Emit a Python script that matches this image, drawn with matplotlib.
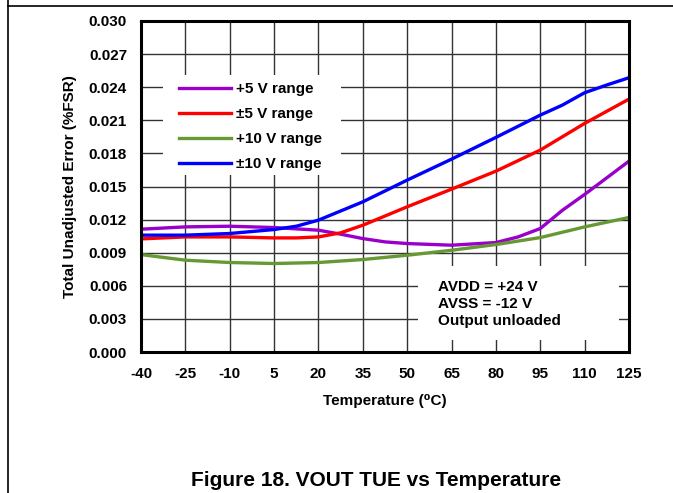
import matplotlib
matplotlib.use("Agg")
import matplotlib.pyplot as plt
from matplotlib.lines import Line2D
from matplotlib.patches import Rectangle

plt.rcParams['font.family'] = ['Liberation Sans', 'DejaVu Sans']
plt.rcParams['font.weight'] = 'bold'

x_ticks = [-40, -25, -10, 5, 20, 35, 50, 65, 80, 95, 110, 125]
y_ticks = [0.000, 0.003, 0.006, 0.009, 0.012, 0.015, 0.018, 0.021, 0.024, 0.027, 0.030]

temp_p5 = [-40, -25, -10, 5, 20, 27.5, 35, 42.5, 50, 65, 80, 87.5, 95, 102.5, 110, 125]
tue_p5 = [0.01113, 0.01134, 0.0114, 0.01128, 0.01104, 0.01068, 0.01028, 0.00998, 0.00983,
          0.00968, 0.00992, 0.01043, 0.01119, 0.01285, 0.01428, 0.0173]

temp_pm5 = [-40, -25, -10, 5, 12.5, 20, 27.5, 35, 50, 65, 80, 95, 110, 125]
tue_pm5 = [0.01025, 0.01043, 0.01043, 0.01034, 0.01034, 0.01043, 0.0108, 0.01149, 0.01316,
           0.01476, 0.01639, 0.0183, 0.02072, 0.02292]

temp_p10 = [-40, -25, -10, 5, 20, 35, 50, 65, 80, 95, 110, 125]
tue_p10 = [0.00883, 0.00832, 0.00811, 0.00802, 0.00811, 0.00838, 0.00877, 0.00922,
           0.00974, 0.01037, 0.01134, 0.01219]

temp_pm10 = [-40, -25, -10, 5, 12.5, 20, 35, 50, 65, 80, 95, 102.5, 110, 117.5, 125]
tue_pm10 = [0.01059, 0.01059, 0.01074, 0.0111, 0.0114, 0.01195, 0.01361, 0.01558, 0.01748,
            0.01945, 0.02147, 0.02238, 0.0235, 0.0242, 0.02486]

labels = ['+5 V range', '\u00b15 V range', '+10 V range', '\u00b110 V range']
colors = ['#9900CC', '#FF0000', '#669933', '#0000FF']

W, H = 673, 493
AX_L, AX_R, AX_T, AX_B = 141, 629, 21, 352
fig = plt.figure(figsize=(W / 100, H / 100), dpi=100)
ax = fig.add_axes([AX_L / W, 1 - AX_B / H, (AX_R - AX_L) / W, (AX_B - AX_T) / H])


def ax_x(px):
    return (px - AX_L) / (AX_R - AX_L)


def ax_y(py):
    return (AX_B - py) / (AX_B - AX_T)


series = [(temp_p5, tue_p5), (temp_pm5, tue_pm5), (temp_p10, tue_p10), (temp_pm10, tue_pm10)]
for (t, v), c in zip(series, colors):
    ax.plot(t, v, color=c, lw=2.4, solid_capstyle='butt', zorder=4)

FS = 11
ax.set_xlim(-40, 125)
ax.set_ylim(0, 0.030)
ax.set_xticks(x_ticks)
ax.set_yticks(y_ticks)
ax.set_xticklabels([str(v) for v in x_ticks], fontsize=FS, fontweight='bold')
ax.set_yticklabels([f'{v:.3f}' for v in y_ticks], fontsize=FS, fontweight='bold')
ax.tick_params(axis='y', length=0, pad=10)
ax.tick_params(axis='x', length=0, pad=10.5)
ax.grid(True, color='#333333', lw=1.0, zorder=1)
for s in ax.spines.values():
    s.set_linewidth(2.2)
    s.set_color('black')
    s.set_zorder(6)

ax.set_xlabel('Temperature (\u2070C)', fontsize=FS, fontweight='bold', labelpad=10)
ax.set_ylabel('Total Unadjusted Error (%FSR)', fontsize=FS, fontweight='bold', labelpad=8.5)

# white boxes that hide the grid behind legend and note
ax.add_patch(Rectangle((ax_x(163), ax_y(175)), ax_x(341) - ax_x(163), ax_y(75) - ax_y(175),
                       transform=ax.transAxes, facecolor='white', edgecolor='none', zorder=2))
ax.add_patch(Rectangle((ax_x(418), ax_y(340)), ax_x(619) - ax_x(418), ax_y(266) - ax_y(340),
                       transform=ax.transAxes, facecolor='white', edgecolor='none', zorder=2))

handles = [Line2D([0], [0], color=c, lw=2.4) for c in colors]
leg = ax.legend(handles, labels, loc='upper left', bbox_to_anchor=(ax_x(179), ax_y(82)),
                frameon=False, prop={'size': FS, 'weight': 'bold'}, handlelength=3.4,
                handletextpad=0.35, labelspacing=0.72, borderpad=0.0, borderaxespad=0.0)
leg.set_zorder(5)

ax.text(ax_x(438), ax_y(280), 'AVDD = +24 V\nAVSS = -12 V\nOutput unloaded',
        transform=ax.transAxes, fontsize=FS, fontweight='bold', va='top', ha='left',
        linespacing=1.27, zorder=5)

fig.text(376 / W, 1 - 480 / H, 'Figure 18. VOUT TUE vs Temperature', fontsize=15,
         fontweight='bold', ha='center', va='center')

fig.add_artist(Line2D([8 / W, 1], [1 - 6 / H, 1 - 6 / H], color='black', lw=1.2,
                      transform=fig.transFigure))
fig.add_artist(Line2D([8 / W, 8 / W], [0, 1], color='black', lw=1.2,
                      transform=fig.transFigure))

fig.savefig('out.png', dpi=100)
